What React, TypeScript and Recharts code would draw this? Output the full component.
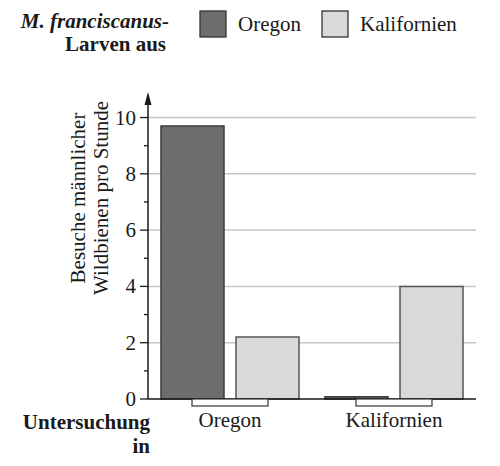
import React from 'react';
import { BarChart, Bar, XAxis, YAxis, CartesianGrid, Label } from 'recharts';

// Untersuchungsort (x categories)
const sites = ['Oregon', 'Kalifornien'];
// Besuche pro Stunde, by origin of the larvae
const visitsLarvaeOregon = [9.7, 0.08];
const visitsLarvaeKalifornien = [2.2, 4.0];

const seriesKeys = ['oregon', 'kalifornien'];
const seriesNames = ['Oregon', 'Kalifornien'];
const seriesFills = ['#6e6e6e', '#d9d9d9'];
const seriesStrokes = ['#3a3a3a', '#555555'];

const yTicks = [0, 1, 2, 3, 4, 5, 6, 7, 8, 9, 10];
const gridValues = [2, 4, 6, 8, 10];

const data = sites.map((site, i) => ({
  site,
  oregon: visitsLarvaeOregon[i],
  kalifornien: visitsLarvaeKalifornien[i],
}));

const FONT = "'Liberation Serif', 'Times New Roman', serif";
const INK = '#1a1a1a';
const txt = { fontFamily: FONT, fontSize: 21 };

const YTick = (props: any) => {
  const { x, y, payload } = props;
  const major = payload.value % 2 === 0;
  return (
    <g>
      <line x1={x - (major ? 8 : 4)} x2={x} y1={y} y2={y} stroke={INK} strokeWidth={1.3} />
      {major && (
        <text x={x - 12} y={y} dy={7} textAnchor="end" fill={INK} style={txt}>
          {payload.value}
        </text>
      )}
    </g>
  );
};

const XTick = (props: any) => {
  const { x, y, payload } = props;
  return (
    <g>
      <rect x={x - 38} y={y} width={76} height={7} fill="#fff" stroke="#333" strokeWidth={1.2} />
      <text x={x} y={y + 28} textAnchor="middle" fill={INK} style={txt}>
        {payload.value}
      </text>
    </g>
  );
};

const XTitle = (props: any) => {
  const { x, y } = props.viewBox;
  return (
    <g fill={INK} textAnchor="end" style={{ ...txt, fontWeight: 'bold' }}>
      <text x={x + 2} y={y + 30}>Untersuchung</text>
      <text x={x + 2} y={y + 54}>in</text>
    </g>
  );
};

const YTitle = (props: any) => {
  const { x, y, width } = props.viewBox;
  const ax = x + width;
  const cy = 198;
  return (
    <g>
      <line x1={ax} x2={ax} y1={y} y2={y + 6} stroke={INK} strokeWidth={1.5} />
      <polygon points={`${ax},${y - 3} ${ax - 3.5},${y + 10} ${ax + 3.5},${y + 10}`} fill={INK} />
      <g fill={INK} textAnchor="middle" style={txt}>
        <text x={85} y={cy} transform={`rotate(-90, 85, ${cy})`}>Besuche männlicher</text>
        <text x={108} y={cy} transform={`rotate(-90, 108, ${cy})`}>Wildbienen pro Stunde</text>
      </g>
    </g>
  );
};

const LegendBox = () => {
  const boxX = [200, 322];
  return (
    <svg width={500} height={60} style={{ position: 'absolute', left: 0, top: 0 }}>
      <g fill={INK} textAnchor="end" style={{ ...txt, fontWeight: 'bold' }}>
        <text x={169} y={28} style={{ fontStyle: 'italic' }}>M. franciscanus-</text>
        <text x={166} y={51}>Larven aus</text>
      </g>
      {seriesNames.map((name, i) => (
        <g key={name}>
          <rect x={boxX[i]} y={11} width={26} height={26} fill={seriesFills[i]} stroke="#333" strokeWidth={1.3} />
          <text x={boxX[i] + 38} y={31} fill={INK} style={txt}>
            {name}
          </text>
        </g>
      ))}
    </svg>
  );
};

export default function App() {
  return (
    <div
      style={{ position: 'absolute', left: 0, top: 0, width: 500, height: 466, background: '#fff', fontFamily: FONT }}
    >
      <BarChart
        width={500}
        height={466}
        data={data}
        margin={{ top: 95, right: 24, bottom: 0, left: 0 }}
        barCategoryGap={13}
        barGap={12}
        style={{ fontFamily: FONT }}
      >
        <CartesianGrid vertical={false} horizontalValues={gridValues} stroke="#c6c6c6" strokeWidth={1.5} />
        <XAxis
          dataKey="site"
          height={67}
          tickSize={0}
          tickMargin={0}
          tickLine={false}
          axisLine={{ stroke: INK, strokeWidth: 1.5 }}
          tick={<XTick />}
        >
          <Label content={<XTitle />} />
        </XAxis>
        <YAxis
          width={148}
          domain={[0, 10.8]}
          ticks={yTicks}
          interval={0}
          tickSize={0}
          tickMargin={0}
          tickLine={false}
          axisLine={{ stroke: INK, strokeWidth: 1.5 }}
          tick={<YTick />}
        >
          <Label content={<YTitle />} />
        </YAxis>
        {seriesKeys.map((key, i) => (
          <Bar
            key={key}
            dataKey={key}
            name={seriesNames[i]}
            fill={seriesFills[i]}
            stroke={seriesStrokes[i]}
            strokeWidth={1.5}
            isAnimationActive={false}
          />
        ))}
      </BarChart>
      <LegendBox />
    </div>
  );
}
